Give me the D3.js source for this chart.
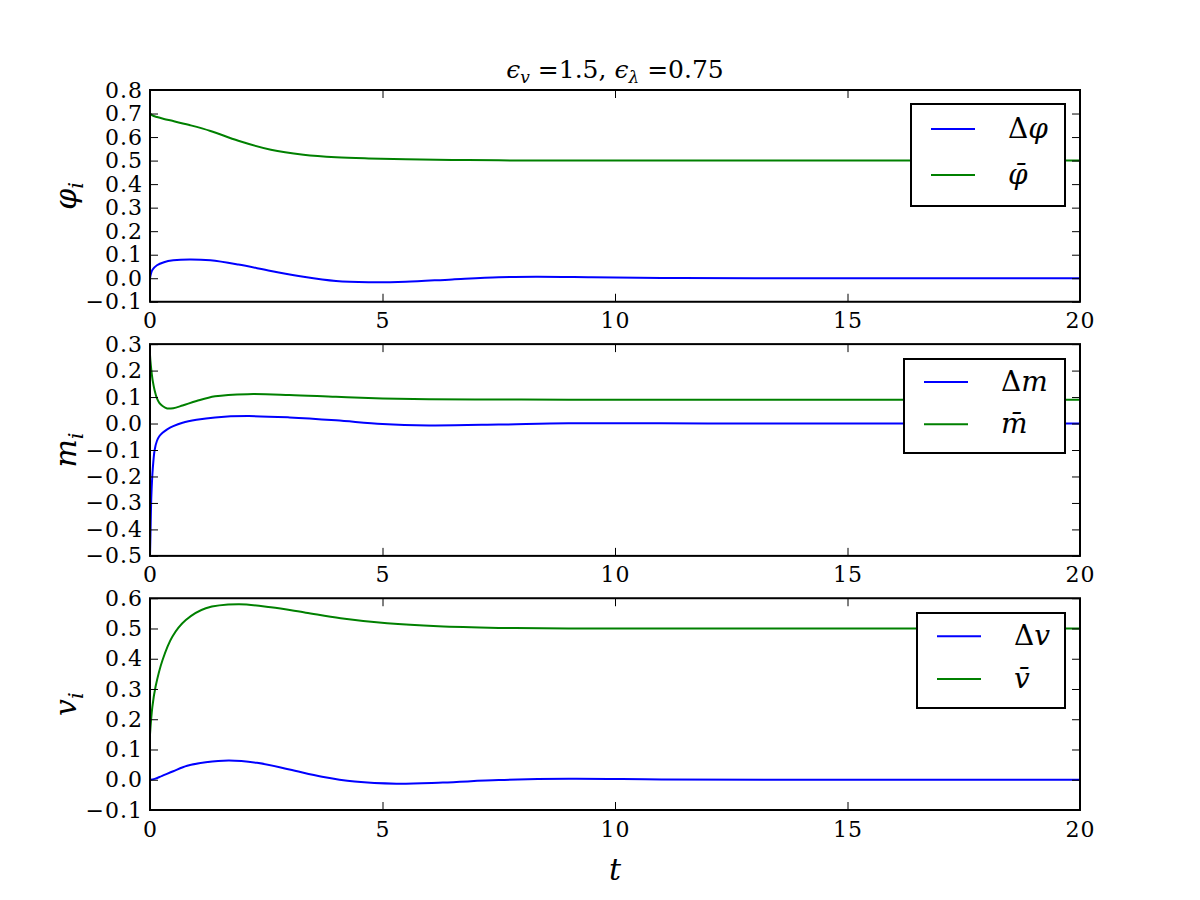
<!DOCTYPE html>
<html>
<head>
<meta charset="utf-8">
<script src="https://cdn.jsdelivr.net/npm/d3@7"></script>
<style>
  body { margin: 0; background: #fff; }
  svg text { font-family: "DejaVu Serif", serif; fill: #000; }
</style>
</head>
<body>
<div id="chart"></div>
<script>
// valores
const tPhi   = [0, 0.05, 0.15, 0.3, 0.5, 0.85, 1.3, 1.9, 2.6, 3.3, 4.0, 4.7, 5.5, 6.5, 7.5, 8.3, 9.5, 11, 13, 20];
const dPhi   = [0, 0.035, 0.055, 0.068, 0.076, 0.080, 0.076, 0.058, 0.031, 0.006, -0.012, -0.017, -0.015, -0.005, 0.004, 0.006, 0.004, 0.001, 0.000, 0.000];
const phiBar = [0.70, 0.692, 0.685, 0.677, 0.668, 0.651, 0.626, 0.584, 0.546, 0.525, 0.514, 0.509, 0.506, 0.503, 0.501, 0.500, 0.500, 0.500, 0.500, 0.500];

const tM   = [0, 0.01, 0.03, 0.06, 0.1, 0.15, 0.2, 0.27, 0.37, 0.5, 0.7, 1.0, 1.4, 2.1, 3.0, 4.0, 5.0, 6.0, 7.5, 9, 12, 15, 20];
const dM   = [-0.50, -0.42, -0.27, -0.17, -0.10, -0.065, -0.048, -0.035, -0.022, -0.010, 0.003, 0.014, 0.023, 0.028, 0.023, 0.012, -0.002, -0.007, -0.004, 0.001, 0.000, 0.000, 0.000];
const mBar = [0.26, 0.235, 0.20, 0.16, 0.125, 0.095, 0.078, 0.066, 0.057, 0.058, 0.068, 0.085, 0.103, 0.111, 0.108, 0.101, 0.095, 0.092, 0.091, 0.090, 0.090, 0.090, 0.090];

const tV   = [0, 0.1, 0.25, 0.5, 0.8, 1.2, 1.7, 2.3, 3.0, 3.7, 4.4, 5.3, 6.3, 7.5, 9, 11, 14, 20];
const dV   = [0, 0.003, 0.012, 0.028, 0.046, 0.058, 0.064, 0.056, 0.034, 0.010, -0.006, -0.013, -0.009, -0.001, 0.003, 0.001, 0.000, 0.000];
const tVb  = [0, 0.05, 0.12, 0.27, 0.48, 0.77, 1.2, 1.9, 2.6, 3.35, 4.1, 5.1, 6.2, 7.5, 9, 12, 20];
const vBar = [0.15, 0.24, 0.308, 0.396, 0.473, 0.528, 0.567, 0.580, 0.570, 0.552, 0.534, 0.517, 0.507, 0.502, 0.500, 0.500, 0.500];

const xTicks = [0, 5, 10, 15, 20];
const yTicksPhi = [-0.1, 0, 0.1, 0.2, 0.3, 0.4, 0.5, 0.6, 0.7, 0.8];
const yTicksM   = [-0.5, -0.4, -0.3, -0.2, -0.1, 0, 0.1, 0.2, 0.3];
const yTicksV   = [-0.1, 0, 0.1, 0.2, 0.3, 0.4, 0.5, 0.6];

const panels = [
  { t: tPhi, d: dPhi, tb: tPhi, bar: phiBar, ticks: yTicksPhi, sym: "φ", barSym: "φ̄",
    legend: { x: 911, y: 104, w: 154, h: 102 } },
  { t: tM, d: dM, tb: tM, bar: mBar, ticks: yTicksM, sym: "m", barSym: "m̄",
    legend: { x: 904, y: 359, w: 161, h: 94 } },
  { t: tV, d: dV, tb: tVb, bar: vBar, ticks: yTicksV, sym: "v", barSym: "v̄",
    legend: { x: 917, y: 613, w: 148, h: 95 } }
];

const width = 1200, height = 900;
const mLeft = 150, mRight = 1080, mTop = 90, mBottom = 810;
const gap = 0.2;
const axH = (mBottom - mTop) / (3 + 2 * gap);

const svg = d3.select("#chart").append("svg")
  .attr("width", width).attr("height", height);
svg.append("rect").attr("width", width).attr("height", height).attr("fill", "#fff");

const x = d3.scaleLinear().domain([0, 20]).range([mLeft, mRight]);
const fmt = d3.format(".1f");

panels.forEach((p, i) => {
  const y0 = mTop + i * axH * (1 + gap);
  const y = d3.scaleLinear()
    .domain([p.ticks[0], p.ticks[p.ticks.length - 1]])
    .range([y0 + axH, y0]);

  const g = svg.append("g");

  // lineas
  const line = d3.line().x(d => x(d[0])).y(d => y(d[1])).curve(d3.curveCatmullRom.alpha(0.5));
  const clipId = "clip" + i;
  svg.append("clipPath").attr("id", clipId).append("rect")
    .attr("x", mLeft).attr("y", y0).attr("width", mRight - mLeft).attr("height", axH);
  g.append("path").datum(p.t.map((t, k) => [t, p.d[k]]))
    .attr("d", line).attr("fill", "none").attr("stroke", "#0000ff")
    .attr("stroke-width", 2).attr("clip-path", `url(#${clipId})`);
  g.append("path").datum(p.tb.map((t, k) => [t, p.bar[k]]))
    .attr("d", line).attr("fill", "none").attr("stroke", "#008000")
    .attr("stroke-width", 2).attr("clip-path", `url(#${clipId})`);

  // ejes con ticks hacia dentro
  const styleAxis = sel => {
    sel.select(".domain").remove();
    sel.selectAll(".tick line").attr("stroke", "#000").attr("stroke-width", 1);
    sel.selectAll(".tick text").attr("font-size", 22).attr("letter-spacing", 1);
  };
  g.append("g").attr("transform", `translate(${mLeft},0)`)
    .call(d3.axisLeft(y).tickValues(p.ticks).tickSize(-8).tickPadding(7).tickFormat(fmt))
    .call(styleAxis);
  g.append("g").attr("transform", `translate(${mRight},0)`)
    .call(d3.axisRight(y).tickValues(p.ticks).tickSize(-8).tickFormat(""))
    .call(styleAxis);
  g.append("g").attr("transform", `translate(0,${y0 + axH})`)
    .call(d3.axisBottom(x).tickValues(xTicks).tickSize(-8).tickPadding(11).tickFormat(d3.format("d")))
    .call(styleAxis);
  g.append("g").attr("transform", `translate(0,${y0})`)
    .call(d3.axisTop(x).tickValues(xTicks).tickSize(-8).tickFormat(""))
    .call(styleAxis);

  g.append("rect").attr("x", mLeft).attr("y", y0)
    .attr("width", mRight - mLeft).attr("height", axH)
    .attr("fill", "none").attr("stroke", "#000").attr("stroke-width", 2);

  // etiqueta y
  const yl = g.append("text")
    .attr("transform", `translate(76,${y0 + axH / 2}) rotate(-90)`)
    .attr("text-anchor", "middle").attr("font-size", 30).attr("font-style", "italic");
  yl.append("tspan").text(p.sym);
  yl.append("tspan").attr("dy", 7).attr("font-size", 21).text("i");

  // leyenda
  const L = p.legend;
  const lg = g.append("g");
  lg.append("rect").attr("x", L.x).attr("y", L.y).attr("width", L.w).attr("height", L.h)
    .attr("fill", "#fff").attr("stroke", "#000").attr("stroke-width", 2);
  const rows = [
    { c: "#0000ff", pre: "Δ", s: p.sym },
    { c: "#008000", pre: "", s: p.barSym }
  ];
  const rowY = [L.y + L.h * 0.245, L.y + L.h * 0.695];
  rows.forEach((r, k) => {
    lg.append("line").attr("x1", L.x + 20).attr("x2", L.x + 64)
      .attr("y1", rowY[k]).attr("y2", rowY[k])
      .attr("stroke", r.c).attr("stroke-width", 2);
    const tx = lg.append("text").attr("x", L.x + 97).attr("y", rowY[k] + 9)
      .attr("font-size", 28);
    if (r.pre) tx.append("tspan").text(r.pre);
    tx.append("tspan").attr("font-style", "italic").text(r.s);
  });
});

// titulo
const title = svg.append("text").attr("x", (mLeft + mRight) / 2).attr("y", 78)
  .attr("text-anchor", "middle").attr("font-size", 25);
title.append("tspan").attr("font-style", "italic").text("ϵ");
title.append("tspan").attr("dy", 5).attr("font-size", 17).attr("font-style", "italic").text("v");
title.append("tspan").attr("dy", -5).text(" =1.5, ");
title.append("tspan").attr("font-style", "italic").text("ϵ");
title.append("tspan").attr("dy", 5).attr("font-size", 17).attr("font-style", "italic").text("λ");
title.append("tspan").attr("dy", -5).text(" =0.75");

// etiqueta x
svg.append("text").attr("x", (mLeft + mRight) / 2).attr("y", 880)
  .attr("text-anchor", "middle").attr("font-size", 30).attr("font-style", "italic").text("t");
</script>
</body>
</html>
